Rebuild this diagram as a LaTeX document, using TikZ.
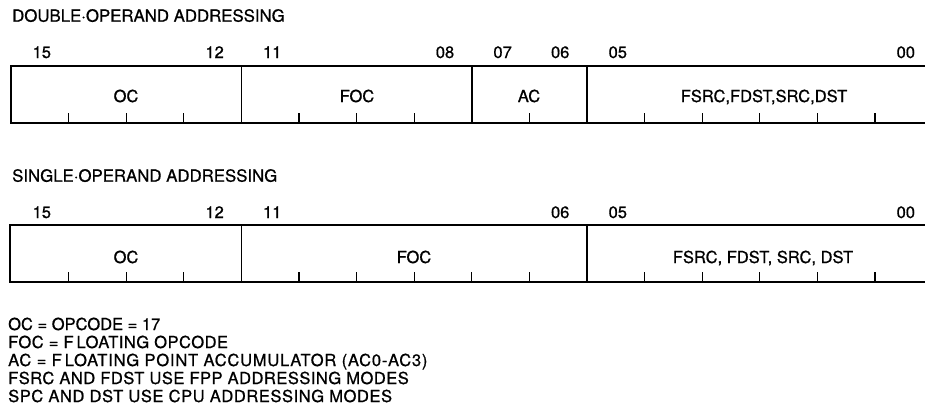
\documentclass[tikz,border=0pt]{standalone}
\usepackage{fontspec}
\setmainfont{TeX Gyre Heros}[FakeBold=0.8]
\newfontfamily\legendfont{TeX Gyre Heros}[FakeBold=0.8]

\begin{document}
\begin{tikzpicture}[x=1pt, y=-1pt, every node/.style={font=\fontsize{16.5}{18}\selectfont, inner sep=0pt},
	frame/.style={line width=2.2pt}, divider/.style={line width=1.6pt}, bittick/.style={line width=1.3pt},
	heading/.style={anchor=base west, font=\fontsize{16.8}{18}\selectfont}]
	\useasboundingbox (0,0) rectangle (925,415);
	% double operand word
	\node[heading] (dtitle) at (12,21.7) {DOUBLE·OPERAND ADDRESSING};
	\draw[frame] (925,66) -- (11,66) -- (11,123) -- (925,123);
	\foreach \k in {4,8,10} {\draw[divider] (11+57.6*\k,66) -- (11+57.6*\k,123);}
	\foreach \k in {1,2,3,5,6,7,9,11,12,13,14,15} {\draw[bittick] (11+57.6*\k,123) -- (11+57.6*\k,113);}
	\foreach \n/\k in {15/0,12/3,11/4,08/7,07/8,06/9,05/10,00/15} {\node[anchor=base] (d\n) at (13+57.6*\k+28.8,58) {\n};}
	\node[anchor=base] (doc) at (126,102) {OC};
	\node[anchor=base] (dfoc) at (357,102) {FOC};
	\node[anchor=base] (dac) at (529,102) {AC};
	\node[anchor=base] (dsrc) at (764,102) {FSRC,FDST,SRC,DST};
	% single operand word
	\node[heading] (stitle) at (12,181.7) {SINGLE·OPERAND ADDRESSING};
	\draw[frame] (925,225) -- (10,225) -- (10,282) -- (925,282);
	\foreach \k in {4,10} {\draw[divider] (11+57.6*\k,225) -- (11+57.6*\k,282);}
	\foreach \k in {1,2,3,5,6,7,8,9,11,12,13,14,15} {\draw[bittick] (11+57.6*\k,282) -- (11+57.6*\k,272);}
	\foreach \n/\k in {15/0,12/3,11/4,06/9,05/10,00/15} {\node[anchor=base] (s\n) at (13+57.6*\k+28.8,218) {\n};}
	\node[anchor=base] (soc) at (126,263) {OC};
	\node[anchor=base] (sfoc) at (414,263) {FOC};
	\node[anchor=base] (ssrc) at (763,263) {FSRC, FDST, SRC, DST};
	% legend
	\foreach \t/\ls [count=\i from 0] in {OC = OPCODE = 17/0, FOC = F\kern3pt LOATING OPCODE/3,
		AC = F\kern3pt LOATING POINT ACCUMULATOR (AC0-AC3)/4.8,
		FSRC AND FDST USE FPP ADDRESSING MODES/3, SPC AND DST USE CPU ADDRESSING MODES/3.5}
		{\node[anchor=base west, font=\legendfont\fontsize{16.5}{18}\selectfont\addfontfeatures{LetterSpace=\ls}] (leg\i) at (8,330+18*\i) {\t};}
\end{tikzpicture}
\end{document}
